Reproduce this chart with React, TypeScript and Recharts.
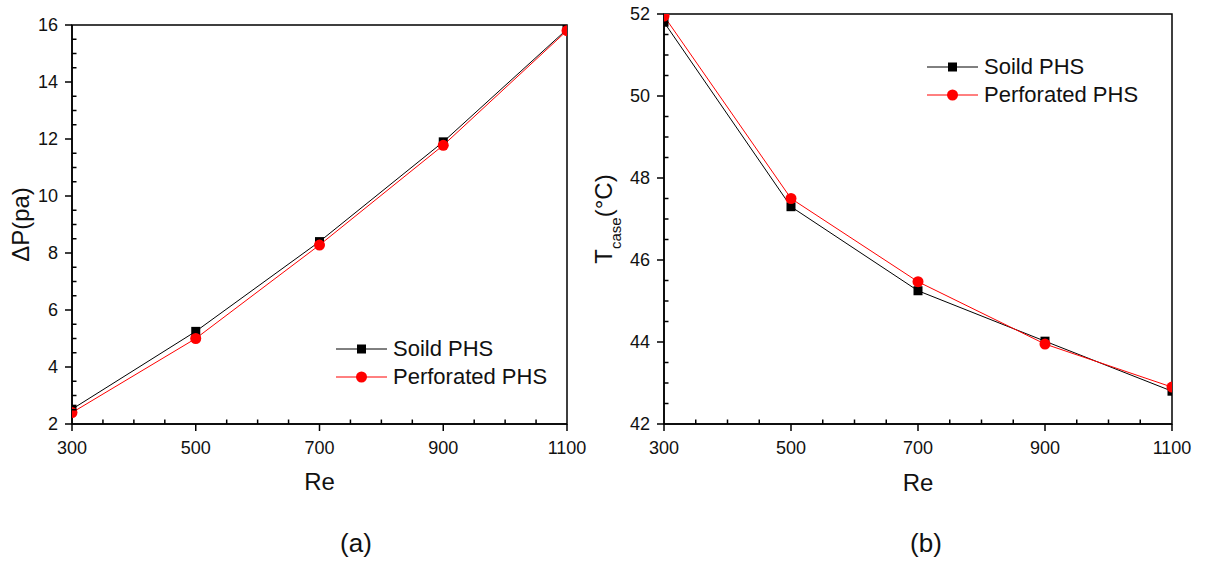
import { LineChart, Line, XAxis, YAxis, Legend, ReferenceArea, Label } from "recharts";

// Reynolds numbers on the x axis
const reValues = [300, 500, 700, 900, 1100];

// (a) pressure drop, Pa
const soildPressure = [2.52, 5.25, 8.4, 11.9, 15.85];
const perforatedPressure = [2.4, 5.0, 8.28, 11.78, 15.8];

// (b) case temperature, °C
const soildTemp = [51.8, 47.3, 45.25, 44.02, 42.8];
const perforatedTemp = [51.95, 47.5, 45.47, 43.95, 42.9];

// major tick labels
const reTicks = [300, 500, 700, 900, 1100];
const pressureTicks = [2, 4, 6, 8, 10, 12, 14, 16];
const tempTicks = [42, 44, 46, 48, 50, 52];

const seriesNames = ["Soild PHS", "Perforated PHS"];

const FONT = '"Liberation Sans", Arial, sans-serif';
const INK = "#111";

const pressureData = reValues.map((re, i) => ({
  re,
  soild: soildPressure[i],
  perforated: perforatedPressure[i],
}));

const tempData = reValues.map((re, i) => ({
  re,
  soild: soildTemp[i],
  perforated: perforatedTemp[i],
}));

// 3 minor ticks between each pair of majors
function withMinors(majors: number[]) {
  const out: number[] = [];
  for (let i = 0; i < majors.length; i++) {
    out.push(majors[i]);
    if (i < majors.length - 1) {
      const step = (majors[i + 1] - majors[i]) / 4;
      for (let k = 1; k < 4; k++) out.push(majors[i] + step * k);
    }
  }
  return out;
}

const makeYTick = (majors: number[]) => (props: any) => {
  const { x, y, payload } = props;
  if (majors.includes(payload.value)) {
    return (
      <g>
        <line x1={x - 7} y1={y} x2={x} y2={y} stroke="#000" strokeWidth={1.5} />
        <text x={x - 14} y={y} dy="0.36em" textAnchor="end" fontSize={18} fontFamily={FONT} fill={INK}>
          {payload.value}
        </text>
      </g>
    );
  }
  return <line x1={x} y1={y} x2={x + 4.5} y2={y} stroke="#000" strokeWidth={1.5} />;
};

const makeXTick = (majors: number[]) => (props: any) => {
  const { x, y, payload } = props;
  if (majors.includes(payload.value)) {
    return (
      <g>
        <line x1={x} y1={y} x2={x} y2={y + 7} stroke="#000" strokeWidth={1.5} />
        <text x={x} y={y + 30} textAnchor="middle" fontSize={18} fontFamily={FONT} fill={INK}>
          {payload.value}
        </text>
      </g>
    );
  }
  return <line x1={x} y1={y} x2={x} y2={y - 4.5} stroke="#000" strokeWidth={1.5} />;
};

const SquareDot = (props: any) => {
  const { cx, cy, index } = props;
  if (cx == null || cy == null) return <g key={`sq-${index}`} />;
  return <rect key={`sq-${index}`} x={cx - 4.5} y={cy - 4.5} width={9} height={9} fill="#000" />;
};

const renderLegend = (props: any) => {
  const entries = [...(props.payload || [])].sort(
    (a: any, b: any) => seriesNames.indexOf(a.value) - seriesNames.indexOf(b.value)
  );
  return (
    <div style={{ fontFamily: FONT }}>
      {entries.map((entry: any, i: number) => (
        <div key={i} style={{ display: "flex", alignItems: "center", height: 28 }}>
          <svg width={51} height={28} style={{ display: "block" }}>
            <line x1={0} y1={14} x2={51} y2={14} stroke={entry.color} strokeWidth={1} />
            {entry.value === seriesNames[0] ? (
              <rect x={21} y={9.5} width={9} height={9} fill="#000" />
            ) : (
              <circle cx={25.5} cy={14} r={5.5} fill="#f00" />
            )}
          </svg>
          <span style={{ marginLeft: 6, fontSize: 22, color: INK, lineHeight: "28px" }}>{entry.value}</span>
        </div>
      ))}
    </div>
  );
};

const axisLine = { stroke: "#000", strokeWidth: 1.5 };

// y axis band and x axis band sizes; plot edges land at margin + band
const Y_BAND = 60;
const X_BAND = 80;

export default function App() {
  return (
    <div style={{ position: "absolute", left: 0, top: 0, width: 1205, height: 566, background: "#fff" }}>
      {/* (a) pressure drop vs Re */}
      <div style={{ position: "absolute", left: 0, top: 0 }}>
        <LineChart
          width={600}
          height={566}
          data={pressureData}
          margin={{ top: 25, right: 33, bottom: 142 - X_BAND, left: 72 - Y_BAND }}
        >
          <XAxis
            dataKey="re"
            type="number"
            domain={[300, 1100]}
            ticks={withMinors(reTicks)}
            interval={0}
            height={X_BAND}
            tickSize={0}
            tickMargin={0}
            tickLine={false}
            axisLine={axisLine}
            tick={makeXTick(reTicks)}
            allowDataOverflow
          >
            <Label
              content={(p: any) => {
                const vb = p.viewBox || { x: 72, y: 424, width: 495 };
                return (
                  <text x={vb.x + vb.width / 2} y={vb.y + 66} textAnchor="middle" fontSize={24} fontFamily={FONT} fill={INK}>
                    Re
                  </text>
                );
              }}
            />
          </XAxis>
          <YAxis
            type="number"
            domain={[2, 16]}
            ticks={withMinors(pressureTicks)}
            interval={0}
            width={Y_BAND}
            tickSize={0}
            tickMargin={0}
            tickLine={false}
            axisLine={axisLine}
            tick={makeYTick(pressureTicks)}
            allowDataOverflow
          >
            <Label
              content={(p: any) => {
                const vb = p.viewBox || { x: 12, y: 25, width: 60, height: 399 };
                const cx = vb.x + vb.width - 43;
                const cy = vb.y + vb.height / 2;
                return (
                  <text x={cx} y={cy} transform={`rotate(-90, ${cx}, ${cy})`} textAnchor="middle" fontSize={24} fontFamily={FONT} fill={INK}>
                    ΔP(pa)
                  </text>
                );
              }}
            />
          </YAxis>
          <ReferenceArea x1={300} x2={1100} y1={2} y2={16} fill="none" stroke="#000" strokeWidth={1.5} ifOverflow="visible" />
          <Legend
            layout="vertical"
            align="center"
            verticalAlign="middle"
            content={renderLegend}
            wrapperStyle={{ left: 336, top: 335, width: "auto", height: "auto" }}
          />
          <Line
            name={seriesNames[0]}
            dataKey="soild"
            stroke="#000"
            strokeWidth={1}
            dot={SquareDot}
            activeDot={false}
            isAnimationActive={false}
          />
          <Line
            name={seriesNames[1]}
            dataKey="perforated"
            stroke="#f00"
            strokeWidth={1}
            dot={{ r: 5.5, fill: "#f00", stroke: "none" }}
            activeDot={false}
            isAnimationActive={false}
          />
        </LineChart>
      </div>

      {/* (b) case temperature vs Re */}
      <div style={{ position: "absolute", left: 570, top: 0 }}>
        <LineChart
          width={635}
          height={566}
          data={tempData}
          margin={{ top: 14, right: 33, bottom: 142 - X_BAND, left: 94 - Y_BAND }}
        >
          <XAxis
            dataKey="re"
            type="number"
            domain={[300, 1100]}
            ticks={withMinors(reTicks)}
            interval={0}
            height={X_BAND}
            tickSize={0}
            tickMargin={0}
            tickLine={false}
            axisLine={axisLine}
            tick={makeXTick(reTicks)}
            allowDataOverflow
          >
            <Label
              content={(p: any) => {
                const vb = p.viewBox || { x: 94, y: 424, width: 508 };
                return (
                  <text x={vb.x + vb.width / 2} y={vb.y + 67} textAnchor="middle" fontSize={24} fontFamily={FONT} fill={INK}>
                    Re
                  </text>
                );
              }}
            />
          </XAxis>
          <YAxis
            type="number"
            domain={[42, 52]}
            ticks={withMinors(tempTicks)}
            interval={0}
            width={Y_BAND}
            tickSize={0}
            tickMargin={0}
            tickLine={false}
            axisLine={axisLine}
            tick={makeYTick(tempTicks)}
            allowDataOverflow
          >
            <Label
              content={(p: any) => {
                const vb = p.viewBox || { x: 34, y: 14, width: 60, height: 410 };
                const cx = vb.x + vb.width - 52;
                const cy = vb.y + vb.height / 2;
                return (
                  <text x={cx} y={cy} transform={`rotate(-90, ${cx}, ${cy})`} textAnchor="middle" fontSize={24} fontFamily={FONT} fill={INK}>
                    T
                    <tspan fontSize={15} dy={9}>case</tspan>
                    <tspan fontSize={24} dy={-9}>(°C)</tspan>
                  </text>
                );
              }}
            />
          </YAxis>
          <ReferenceArea x1={300} x2={1100} y1={42} y2={52} fill="none" stroke="#000" strokeWidth={1.5} ifOverflow="visible" />
          <Legend
            layout="vertical"
            align="center"
            verticalAlign="middle"
            content={renderLegend}
            wrapperStyle={{ left: 357, top: 53, width: "auto", height: "auto" }}
          />
          <Line
            name={seriesNames[0]}
            dataKey="soild"
            stroke="#000"
            strokeWidth={1}
            dot={SquareDot}
            activeDot={false}
            isAnimationActive={false}
          />
          <Line
            name={seriesNames[1]}
            dataKey="perforated"
            stroke="#f00"
            strokeWidth={1}
            dot={{ r: 5.5, fill: "#f00", stroke: "none" }}
            activeDot={false}
            isAnimationActive={false}
          />
        </LineChart>
      </div>

      <svg width={1205} height={566} style={{ position: "absolute", left: 0, top: 0, pointerEvents: "none" }}>
        <text x={356} y={552} textAnchor="middle" fontSize={26} fontFamily={FONT} fill={INK}>
          (a)
        </text>
        <text x={926} y={552} textAnchor="middle" fontSize={26} fontFamily={FONT} fill={INK}>
          (b)
        </text>
      </svg>
    </div>
  );
}
